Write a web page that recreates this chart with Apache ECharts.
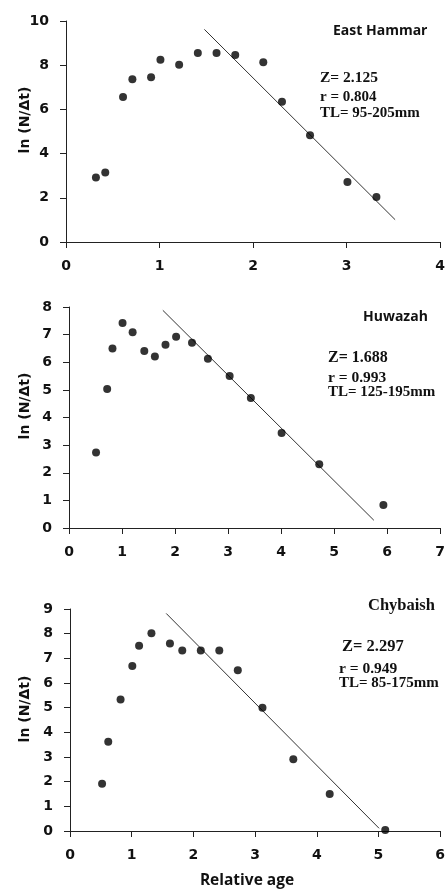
<!DOCTYPE html>
<html>
<head>
<meta charset="utf-8">
<script src="https://cdn.jsdelivr.net/npm/echarts@6/dist/echarts.min.js"></script>
<style>html,body{margin:0;padding:0;background:#fff}#c{width:448px;height:893px}</style>
</head>
<body>
<div id="c"></div>
<script>
// East Hammar
const ehX = [0.32,0.42,0.61,0.71,0.91,1.01,1.21,1.41,1.61,1.81,2.11,2.31,2.61,3.01,3.32];
const ehY = [2.92,3.14,6.56,7.36,7.45,8.25,8.02,8.55,8.55,8.46,8.13,6.35,4.83,2.71,2.04];
const ehLineX = [1.48,3.52];
const ehLineY = [9.62,1.01];
// Huwazah
const hwX = [0.51,0.72,0.82,1.01,1.20,1.42,1.62,1.82,2.02,2.32,2.62,3.03,3.43,4.01,4.72,5.93];
const hwY = [2.73,5.03,6.50,7.42,7.09,6.41,6.21,6.63,6.92,6.71,6.13,5.50,4.71,3.44,2.31,0.83];
const hwLineX = [1.77,5.75];
const hwLineY = [7.88,0.28];
// Chybaish
const cbX = [0.52,0.62,0.82,1.01,1.12,1.32,1.62,1.82,2.12,2.42,2.72,3.12,3.62,4.21,5.11];
const cbY = [1.92,3.62,5.33,6.69,7.51,8.02,7.60,7.32,7.32,7.32,6.52,5.00,2.91,1.50,0.04];
const cbLineX = [1.56,5.01];
const cbLineY = [8.82,0.11];
// Axes
const xMax = [4,7,6];
const yMax = [10,8,9];
const yStep = [2,1,1];
const yName = 'ln (N/Δt)';
const xName = 'Relative age';
const titles = ['East Hammar','Huwazah','Chybaish'];
const stats = [
  ['Z= 2.125','r = 0.804','TL= 95-205mm'],
  ['Z= 1.688','r = 0.993','TL= 125-195mm'],
  ['Z= 2.297','r = 0.949','TL= 85-175mm']
];

const zip = (a,b)=>a.map((v,i)=>[v,b[i]]);
const grids = [
  {left:66, top:21, width:374, height:221},
  {left:69, top:307, width:372, height:221},
  {left:70, top:609, width:373, height:222}
];
const axisLine = {lineStyle:{color:'#222',width:1}};
const tickLbl = {fontFamily:'DejaVu Sans', fontWeight:'bold', fontSize:14, color:'#111'};
const xAxes = xMax.map((m,i)=>({
  type:'value', gridIndex:i, min:0, max:m, interval:1,
  axisLine:Object.assign({show:true,onZero:false},axisLine),
  axisTick:{show:true,inside:false,length:6,lineStyle:{color:'#222'}},
  axisLabel:Object.assign({margin:17},tickLbl),
  splitLine:{show:false}
}));
const yAxes = yMax.map((m,i)=>({
  type:'value', gridIndex:i, min:0, max:m, interval:yStep[i],
  axisLine:Object.assign({show:true,onZero:false},axisLine),
  axisTick:{show:true,inside:false,length:6,lineStyle:{color:'#222'}},
  axisLabel:Object.assign({margin:17},tickLbl),
  splitLine:{show:false}
}));
const sets = [[ehX,ehY,ehLineX,ehLineY],[hwX,hwY,hwLineX,hwLineY],[cbX,cbY,cbLineX,cbLineY]];
const series = [];
sets.forEach((s,i)=>{
  series.push({type:'line', xAxisIndex:i, yAxisIndex:i, data:zip(s[2],s[3]), symbol:'none',
    lineStyle:{color:'#333',width:1}, silent:true, z:1});
  series.push({type:'scatter', xAxisIndex:i, yAxisIndex:i, data:zip(s[0],s[1]), symbolSize:8,
    itemStyle:{color:'#000'}, z:2});
});

const serif = (size)=>'bold '+size+'px "Liberation Serif"';
const sans = (size)=>'bold '+size+'px "Open Sans"';
const txt = (text,x,y,font,extra)=>Object.assign({type:'text', x:x, y:y,
  style:{text:text, font:font, fill:'#111', align:'left', verticalAlign:'middle'}}, extra||{});
const graphic = [
  txt(titles[0],333,31,sans(14)),
  txt(stats[0][0],320,78,serif(15.5)),
  txt(stats[0][1],320,97,serif(15)),
  txt(stats[0][2],320,113,serif(15)),
  txt(titles[1],363,317,sans(14)),
  txt(stats[1][0],328,358,serif(16)),
  txt(stats[1][1],328,378,serif(15.5)),
  txt(stats[1][2],328,392,serif(15)),
  txt(titles[2],368,606,serif(16.5)),
  txt(stats[2][0],342,647,serif(16.5)),
  txt(stats[2][1],339,669,serif(15.5)),
  txt(stats[2][2],339,683,serif(15)),
  {type:'text', x:25, y:120, rotation:Math.PI/2, style:{text:yName, font:'bold 14px "DejaVu Sans"', fill:'#111', align:'center', verticalAlign:'middle'}},
  {type:'text', x:25, y:406, rotation:Math.PI/2, style:{text:yName, font:'bold 14px "DejaVu Sans"', fill:'#111', align:'center', verticalAlign:'middle'}},
  {type:'text', x:25, y:709, rotation:Math.PI/2, style:{text:yName, font:'bold 14px "DejaVu Sans"', fill:'#111', align:'center', verticalAlign:'middle'}},
  {type:'text', x:247, y:881, style:{text:xName, font:'bold 15.5px "Open Sans"', fill:'#111', align:'center', verticalAlign:'middle'}}
];

const chart = echarts.init(document.getElementById('c'), null, {renderer:'canvas'});
chart.setOption({
  animation:false,
  backgroundColor:'#fff',
  grid:grids,
  xAxis:xAxes,
  yAxis:yAxes,
  series:series,
  graphic:graphic
});
</script>
</body>
</html>
